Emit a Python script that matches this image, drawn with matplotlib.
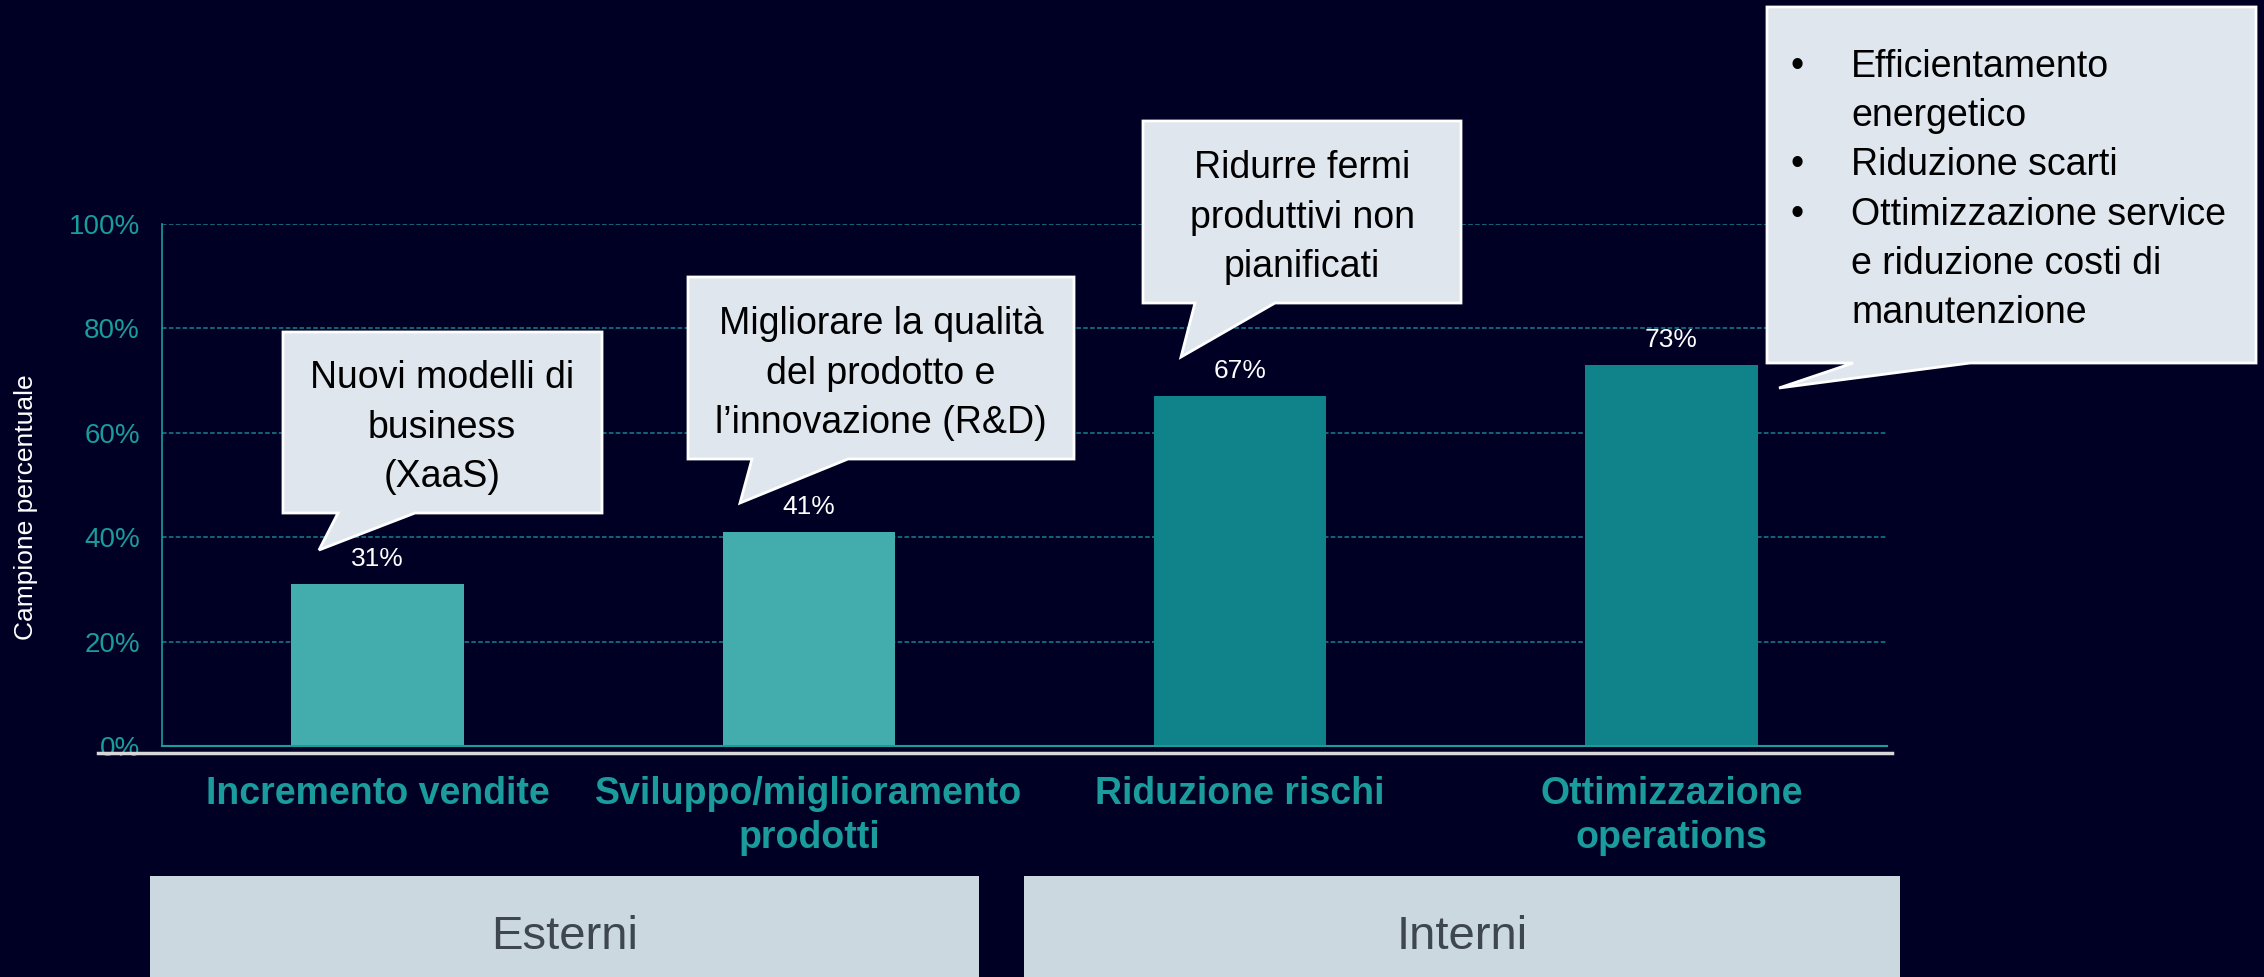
import matplotlib
matplotlib.use("Agg")
import matplotlib.pyplot as plt
from matplotlib.patches import Polygon, Rectangle
from matplotlib.lines import Line2D
from matplotlib.transforms import blended_transform_factory

plt.rcParams['font.family'] = ['Liberation Sans', 'DejaVu Sans']

# ---- data ----
categories = ["Incremento vendite", "Sviluppo/miglioramento\nprodotti",
              "Riduzione rischi", "Ottimizzazione\noperations"]
values = [31, 41, 67, 73]
value_labels = ["31%", "41%", "67%", "73%"]
bar_colors = ["#43ADAD", "#43ADAD", "#10828A", "#10828A"]
yticks = [0, 20, 40, 60, 80, 100]
ytick_labels = ["0%", "20%", "40%", "60%", "80%", "100%"]
ylabel = "Campione percentuale"
groups = ["Esterni", "Interni"]
callout_texts = [
    ["Nuovi modelli di", "business", "(XaaS)"],
    ["Migliorare la qualità", "del prodotto e", "l\u2019innovazione (R&D)"],
    ["Ridurre fermi", "produttivi non", "pianificati"],
]
bullet_lines = ["Efficientamento", "energetico", "Riduzione scarti",
                "Ottimizzazione service", "e riduzione costi di", "manutenzione"]
bullet_flags = [True, False, True, True, False, False]

# ---- styling ----
W, H = 2264, 977
BG = "#000025"
TEAL = "#1A9C9C"
GRID = "#17808E"
CALLOUT_FILL = "#DFE6EE"

fig = plt.figure(figsize=(W / 100, H / 100), dpi=100, facecolor=BG)

def fx(x):
    return x / W

def fy(y):
    return 1 - y / H

ax = fig.add_axes([fx(162), fy(746), fx(1887) - fx(162), fy(224) - fy(746)])
ax.set_facecolor(BG)
ax.set_xlim(-0.5, 3.5)
ax.set_ylim(0, 100)

x = list(range(len(categories)))
bars = ax.bar(x, values, width=0.4, color=bar_colors, zorder=2)

for gy in yticks[1:]:
    ax.axhline(gy, color=GRID, lw=1.1, ls=(0, (3, 1.5)), zorder=1)

for s in ["top", "right"]:
    ax.spines[s].set_visible(False)
ax.spines["left"].set_color(TEAL)
ax.spines["bottom"].set_color(TEAL)
ax.spines["left"].set_linewidth(1.2)
ax.spines["bottom"].set_linewidth(1.5)

ax.set_yticks(yticks)
ax.set_yticklabels(ytick_labels)
ax.tick_params(axis="y", length=0, pad=16, labelsize=20, labelcolor=TEAL)
ax.set_xticks([])

for xi, v, lab in zip(x, values, value_labels):
    ax.annotate(lab, (xi, v), xytext=(0, 13), textcoords="offset points",
                ha="center", va="baseline", color="white", fontsize=19)

# category labels
trans = blended_transform_factory(ax.transData, fig.transFigure)
for xi, cat in zip(x, categories):
    for j, line in enumerate(cat.split("\n")):
        ax.text(xi, fy(804 + 44 * j), line, transform=trans, ha="center",
                va="baseline", color=TEAL, fontsize=27, fontweight="bold")

# white separator line
fig.add_artist(Line2D([fx(98), fx(1892)], [fy(753), fy(753)],
                      transform=fig.transFigure, color="#D8D8D8", lw=2.5))

# y label
fig.text(fx(26), fy(507), ylabel, rotation=90, ha="center", va="center",
         color="white", fontsize=19)

# group boxes
box_specs = [(150, 979), (1024, 1900)]
for (x0, x1), g in zip(box_specs, groups):
    fig.add_artist(Rectangle((fx(x0), fy(990)), fx(x1) - fx(x0), fy(876) - fy(990),
                             transform=fig.transFigure, facecolor="#CBD8E0",
                             edgecolor="none"))
    fig.text(fx((x0 + x1) / 2), fy(937), g, ha="center", va="center",
             color="#3D474D", fontsize=34)

# callouts
def callout(x0, y0, x1, y1, ba, bb, tip):
    pts = [(x0, y0), (x1, y0), (x1, y1), (bb, y1), tip, (ba, y1), (x0, y1)]
    poly = Polygon([(fx(a), fy(b)) for a, b in pts], closed=True,
                   transform=fig.transFigure, facecolor=CALLOUT_FILL,
                   edgecolor="white", lw=2, zorder=5)
    fig.add_artist(poly)

boxes = [
    (283, 332, 602, 513, 338, 415, (319, 550), 442, 388),
    (688, 277, 1074, 459, 752, 848, (740, 503), 881, 334),
    (1143, 121, 1461, 303, 1195, 1275, (1181, 357), 1302, 178),
]
for (x0, y0, x1, y1, ba, bb, tip, cx, b0), lines in zip(boxes, callout_texts):
    callout(x0, y0, x1, y1, ba, bb, tip)
    for j, line in enumerate(lines):
        fig.text(fx(cx), fy(b0 + 49.5 * j), line, ha="center", va="baseline",
                 color="black", fontsize=27, zorder=6)

callout(1767, 7, 2256, 363, 1853, 1970, (1779, 388))
for j, (line, flag) in enumerate(zip(bullet_lines, bullet_flags)):
    yb = 77 + 49.2 * j
    if flag:
        fig.text(fx(1797), fy(yb), "\u2022", ha="center", va="baseline",
                 color="black", fontsize=27, zorder=6)
    fig.text(fx(1851), fy(yb), line, ha="left", va="baseline",
             color="black", fontsize=27, zorder=6)

fig.savefig("out.png", dpi=100, facecolor=BG)
